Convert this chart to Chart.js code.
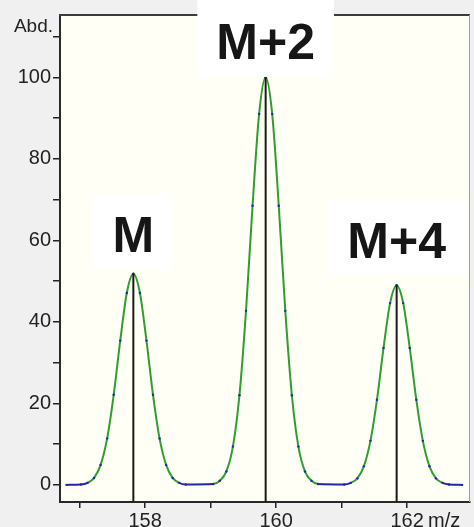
<!DOCTYPE html>
<html>
<head>
<meta charset="utf-8">
<script src="https://cdn.jsdelivr.net/npm/chart.js@4.4.1/dist/chart.umd.min.js"></script>
<style>
  html, body { margin: 0; padding: 0; background: #f0f0f0; }
  canvas { display: block; }
</style>
</head>
<body>
<canvas id="spectrumChart" width="474" height="527"></canvas>
<script>
// Perfil dos picos (m/z, abundância)
const peakM_mz = [157.02, 157.12, 157.22, 157.32, 157.42, 157.52, 157.62, 157.72, 157.82, 157.92, 158.02, 158.12, 158.22, 158.32, 158.42, 158.52, 158.62];
const peakM_abd = [0.1, 0.5, 1.7, 4.9, 11.4, 22.1, 35.4, 47.1, 51.8, 47.1, 35.4, 22.1, 11.4, 4.9, 1.7, 0.5, 0.1];

const peakM2_mz = [159.04, 159.14, 159.24, 159.34, 159.44, 159.54, 159.64, 159.74, 159.84, 159.94, 160.04, 160.14, 160.24, 160.34, 160.44, 160.54, 160.64];
const peakM2_abd = [0.2, 1.0, 3.3, 9.4, 22.0, 42.7, 68.5, 91.0, 100, 91.0, 68.5, 42.7, 22.0, 9.4, 3.3, 1.0, 0.2];

const peakM4_mz = [161.04, 161.14, 161.24, 161.34, 161.44, 161.54, 161.64, 161.74, 161.84, 161.94, 162.04, 162.14, 162.24, 162.34, 162.44, 162.54, 162.64];
const peakM4_abd = [0.1, 0.5, 1.6, 4.6, 10.8, 20.9, 33.6, 44.6, 49.0, 44.6, 33.6, 20.9, 10.8, 4.6, 1.6, 0.5, 0.1];

// linha de base (início e fim do traço)
const baseStartMz = 156.80;
const baseEndMz = 162.84;

// espectro de barras (centróides)
const stickMz = [157.82, 159.84, 161.84];
const stickAbd = [51.8, 100, 49.0];

// rótulos dos picos
const peakLabels = ['M', 'M+2', 'M+4'];
const labelMz = [157.82, 159.84, 161.84];
const labelBottomAbd = [52.7, 100.1, 51.3];

// eixos
const xTickValues = [157, 158, 159, 160, 161, 162];
const xTickLabels = ['', '158', '', '160', '', '162'];
const yTickValues = [0, 10, 20, 30, 40, 50, 60, 70, 80, 90, 100, 110];
const yTickLabels = ['0', '', '20', '', '40', '', '60', '', '80', '', '100', ''];
const xMin = 156.70, xMax = 162.96;
const yMin = -4.2, yMax = 115.3;

const toPoints = (xs, ys) => xs.map((x, i) => ({ x: x, y: ys[i] }));

const profile = [{ x: baseStartMz, y: 0 }]
    .concat(toPoints(peakM_mz, peakM_abd))
    .concat(toPoints(peakM2_mz, peakM2_abd))
    .concat(toPoints(peakM4_mz, peakM4_abd))
    .concat([{ x: baseEndMz, y: 0 }]);

const sticks = [];
stickMz.forEach((mz, i) => {
    sticks.push({ x: mz, y: yMin }, { x: mz, y: stickAbd[i] }, { x: mz, y: null });
});

const FONT = "'Liberation Sans', Arial, sans-serif";

const chartFrame = {
    id: 'chartFrame',
    beforeDraw(chart) {
        const { ctx, chartArea: a } = chart;
        ctx.save();
        ctx.fillStyle = '#f0f0f0';
        ctx.fillRect(0, 0, chart.width, chart.height);
        ctx.fillStyle = '#fffff5';
        ctx.fillRect(a.left, a.top, a.right - a.left, a.bottom - a.top);
        ctx.restore();
    },
    afterDraw(chart) {
        const { ctx, chartArea: a } = chart;
        const xs = chart.scales.x, ys = chart.scales.y;
        ctx.save();
        // moldura superior e direita
        ctx.strokeStyle = '#3c3c3c';
        ctx.lineWidth = 2;
        ctx.beginPath();
        ctx.moveTo(a.left - 1, a.top);
        ctx.lineTo(a.right, a.top);
        ctx.stroke();
        ctx.strokeStyle = '#a0a0a0';
        ctx.lineWidth = 1;
        ctx.beginPath();
        ctx.moveTo(a.right - 0.5, a.top);
        ctx.lineTo(a.right - 0.5, a.bottom);
        ctx.stroke();

        // títulos dos eixos
        ctx.fillStyle = '#222';
        ctx.font = '19px ' + FONT;
        ctx.textAlign = 'right';
        ctx.textBaseline = 'alphabetic';
        ctx.fillText('Abd.', a.left - 7, a.top + 17);
        ctx.textAlign = 'left';
        ctx.font = '20px ' + FONT;
        ctx.fillText('m/z', xs.getPixelForValue(162) + 21, a.bottom + 25);

        // rótulos M, M+2, M+4
        ctx.font = 'bold 50px ' + FONT;
        peakLabels.forEach((txt, i) => {
            const cx = xs.getPixelForValue(labelMz[i]);
            const bottom = ys.getPixelForValue(labelBottomAbd[i]);
            const w = ctx.measureText(txt).width + 38;
            ctx.fillStyle = '#ffffff';
            ctx.fillRect(cx - w / 2, bottom - 77, w, 77);
            ctx.fillStyle = '#161616';
            ctx.textAlign = 'center';
            ctx.fillText(txt, cx, bottom - 18);
        });
        ctx.restore();
    }
};

const ctx = document.getElementById('spectrumChart').getContext('2d');
const spectrumChart = new Chart(ctx, {
    type: 'line',
    data: {
        datasets: [{
            label: 'sticks',
            data: sticks,
            borderColor: '#1a1a1a',
            borderWidth: 2,
            pointRadius: 0,
            spanGaps: false,
            tension: 0
        }, {
            label: 'perfil',
            data: profile,
            borderColor: '#2f9e2f',
            borderWidth: 2,
            cubicInterpolationMode: 'monotone',
            pointRadius: 1.2,
            pointBorderWidth: 0,
            pointBackgroundColor: '#2525aa',
            segment: {
                borderColor: c => (c.p0.parsed.y < 0.6 && c.p1.parsed.y < 0.6) ? '#2525aa' : undefined
            }
        }]
    },
    options: {
        responsive: false,
        animation: false,
        events: [],
        layout: { padding: { top: 15, right: 1, left: 0, bottom: 0 } },
        plugins: {
            legend: { display: false },
            tooltip: { enabled: false }
        },
        scales: {
            x: {
                type: 'linear',
                min: xMin,
                max: xMax,
                afterBuildTicks: s => { s.ticks = xTickValues.map(v => ({ value: v })); },
                afterFit: s => { s.height = 25; },
                ticks: {
                    autoSkip: false,
                    maxRotation: 0,
                    padding: 1,
                    color: '#222',
                    font: { family: FONT, size: 20 },
                    callback: (v, i) => xTickLabels[i]
                },
                grid: { drawOnChartArea: false, drawTicks: true, tickLength: 6, color: '#222', lineWidth: 1.5 },
                border: { display: true, color: '#2a2a2a', width: 2 }
            },
            y: {
                min: yMin,
                max: yMax,
                afterBuildTicks: s => { s.ticks = yTickValues.map(v => ({ value: v })); },
                afterFit: s => { s.width = 60; },
                ticks: {
                    autoSkip: false,
                    padding: 2,
                    color: '#222',
                    font: { family: FONT, size: 20 },
                    callback: (v, i) => yTickLabels[i]
                },
                grid: { drawOnChartArea: false, drawTicks: true, tickLength: 7, color: '#222', lineWidth: 1.5 },
                border: { display: true, color: '#2a2a2a', width: 2 }
            }
        }
    },
    plugins: [chartFrame]
});
</script>
</body>
</html>
